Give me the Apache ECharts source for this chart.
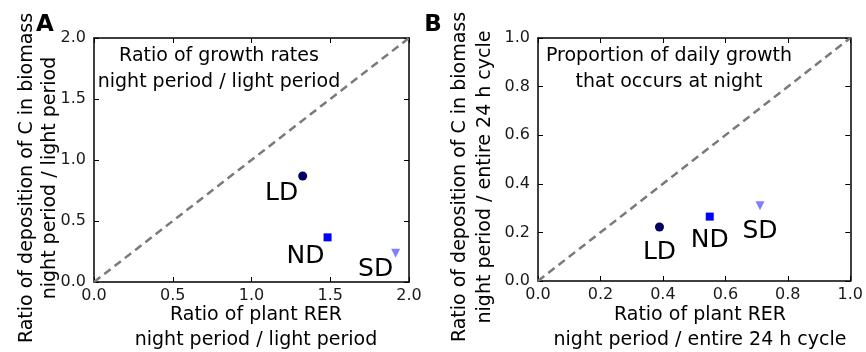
<!DOCTYPE html>
<html>
<head>
<meta charset="utf-8">
<script src="https://cdn.jsdelivr.net/npm/echarts@6/dist/echarts.min.js"></script>
<style>
html,body{margin:0;padding:0;background:#fff;}
#chart{width:866px;height:352px;}
</style>
</head>
<body>
<div id="chart"></div>
<script>
// ---- data ----
const conditions = ['LD', 'ND', 'SD'];
const rerRatioA = [1.325, 1.483, 1.915];   // x, panel A
const depRatioA = [0.869, 0.366, 0.235];   // y, panel A
const rerPropB = [0.389, 0.550, 0.711];    // x, panel B
const depPropB = [0.222, 0.265, 0.310];    // y, panel B
const diagonalA = [[0, 0], [2, 2]];
const diagonalB = [[0, 0], [1, 1]];
const colors = ['#000060', '#0000ff', '#8080ff'];
const symbols = ['circle', 'rect', 'triangle'];

const FONT = 'DejaVu Sans';
const chart = echarts.init(document.getElementById('chart'), null, {renderer: 'canvas'});

function mkAxes(gridIndex, max, interval, isX) {
  const common = {
    gridIndex, type: 'value', min: 0, max, interval,
    axisLine: {show: true, onZero: false, lineStyle: {color: '#000', width: 1.5}},
    axisTick: {show: true, inside: true, length: 5, lineStyle: {color: '#000', width: 1}},
    splitLine: {show: false}
  };
  const main = Object.assign({}, common, {
    position: isX ? 'bottom' : 'left',
    axisLabel: {show: true, color: '#1a1a1a', fontFamily: FONT, fontSize: 16, margin: isX ? 6 : 8,
      formatter: v => v.toFixed(1)}
  });
  const twin = Object.assign({}, common, {
    position: isX ? 'top' : 'right',
    axisLabel: {show: false}
  });
  return [main, twin];
}

const labelOffsetsA = [[-21, 18], [-22, 19], [-20, 16]];
const labelOffsetsB = [[0, 25], [0, 24], [0, 26]];

function pointSeries(xs, ys, xIdx, yIdx, offsets) {
  return conditions.map((c, i) => ({
    type: 'scatter', name: c, xAxisIndex: xIdx, yAxisIndex: yIdx,
    symbol: symbols[i], symbolSize: i === 2 ? 9 : (i === 1 ? 8 : 9),
    symbolRotate: i === 2 ? 180 : 0,
    itemStyle: {color: colors[i], opacity: 1},
    data: [[xs[i], ys[i]]],
    label: {show: true, position: 'inside', offset: offsets[i], formatter: c,
      color: '#000', fontFamily: FONT, fontSize: 25},
    z: 5
  }));
}

function diagSeries(data, xIdx, yIdx) {
  return {
    type: 'line', data, xAxisIndex: xIdx, yAxisIndex: yIdx, symbol: 'none',
    lineStyle: {color: '#7a7a7a', width: 2.5, type: [8, 5]}, silent: true, z: 2
  };
}

const [xA, xA2] = mkAxes(0, 2, 0.5, true);
const [yA, yA2] = mkAxes(0, 2, 0.5, false);
const [xB, xB2] = mkAxes(1, 1, 0.2, true);
const [yB, yB2] = mkAxes(1, 1, 0.2, false);

function txt(x, y, text, opts) {
  return Object.assign({
    type: 'text', x, y,
    style: Object.assign({text, fill: '#000', font: `19px "${FONT}"`, align: 'center', verticalAlign: 'middle'}, opts && opts.style)
  }, opts && opts.extra);
}

const option = {
  animation: false,
  backgroundColor: '#fff',
  grid: [
    {left: 94, top: 38, width: 315, height: 244},
    {left: 538, top: 38, width: 316, height: 243}
  ],
  xAxis: [xA, xA2, xB, xB2],
  yAxis: [yA, yA2, yB, yB2],
  series: [
    diagSeries(diagonalA, 0, 0),
    ...pointSeries(rerRatioA, depRatioA, 0, 0, labelOffsetsA),
    diagSeries(diagonalB, 2, 2),
    ...pointSeries(rerPropB, depPropB, 2, 2, labelOffsetsB)
  ],
  graphic: [
    txt(45, 25, 'A', {style: {font: `bold 23px "${FONT}"`}}),
    txt(433, 25, 'B', {style: {font: `bold 23px "${FONT}"`}}),
    txt(219, 56, 'Ratio of growth rates'),
    txt(219, 82, 'night period / light period'),
    txt(669, 56, 'Proportion of daily growth'),
    txt(669, 82, 'that occurs at night'),
    txt(256, 315, 'Ratio of plant RER'),
    txt(256, 340, 'night period / light period'),
    txt(700, 315, 'Ratio of plant RER'),
    txt(700, 340, 'night period / entire 24 h cycle'),
    txt(27, 178, 'Ratio of deposition of C in biomass', {extra: {rotation: Math.PI / 2}}),
    txt(50, 178, 'night period / light period', {extra: {rotation: Math.PI / 2}}),
    txt(460, 177, 'Ratio of deposition of C in biomass', {extra: {rotation: Math.PI / 2}}),
    txt(485, 177, 'night period / entire 24 h cycle', {extra: {rotation: Math.PI / 2}})
  ]
};
chart.setOption(option);
</script>
</body>
</html>
